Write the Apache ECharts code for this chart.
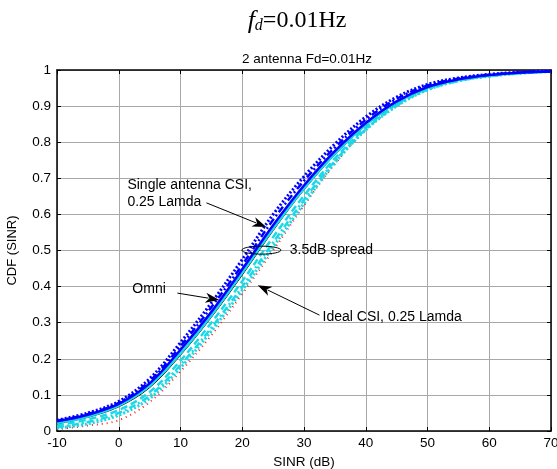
<!DOCTYPE html>
<html><head><meta charset="utf-8">
<script src="https://cdn.jsdelivr.net/npm/echarts@6/dist/echarts.min.js"></script>
<style>html,body{margin:0;padding:0;background:#fff}#c{width:557px;height:469px}</style>
</head><body><div id="c"></div>
<script>
var sinr = [-10,-5,0,5,10,15,20,25,30,35,40,45,50,55,60,65,70];
var blueDotted  = [0.030,0.050,0.082,0.145,0.245,0.355,0.475,0.600,0.705,0.795,0.870,0.925,0.960,0.978,0.988,0.994,0.997];
var blueDashDot = [0.028,0.047,0.078,0.138,0.235,0.343,0.460,0.585,0.693,0.785,0.862,0.920,0.957,0.976,0.987,0.993,0.997];
var blueSolid   = [0.027,0.045,0.075,0.132,0.225,0.330,0.448,0.570,0.680,0.775,0.853,0.913,0.953,0.974,0.986,0.993,0.996];
var cyanSolid   = [0.022,0.040,0.070,0.125,0.215,0.320,0.438,0.560,0.672,0.768,0.848,0.910,0.951,0.973,0.985,0.992,0.996];
var blackSolid  = [0.020,0.038,0.067,0.120,0.210,0.315,0.432,0.555,0.668,0.765,0.846,0.908,0.950,0.972,0.985,0.992,0.996];
var cyanDashed  = [0.015,0.032,0.058,0.108,0.195,0.300,0.415,0.537,0.652,0.755,0.840,0.905,0.948,0.971,0.984,0.992,0.996];
var cyanDashDot = [0.010,0.025,0.050,0.098,0.183,0.286,0.400,0.522,0.640,0.748,0.836,0.902,0.946,0.970,0.983,0.991,0.996];
var cyanDotted  = [0.008,0.020,0.044,0.090,0.175,0.277,0.390,0.510,0.630,0.743,0.834,0.900,0.945,0.970,0.983,0.991,0.996];
var redDotted   = [0.005,0.015,0.030,0.080,0.165,0.265,0.380,0.500,0.625,0.740,0.835,0.900,0.945,0.970,0.982,0.991,0.996];
var xTicks = [-10,0,10,20,30,40,50,60,70];
var yTicks = [0,0.1,0.2,0.3,0.4,0.5,0.6,0.7,0.8,0.9,1];

var BLUE = '#0000ff', CYAN = '#1ad8e6';
var seriesDefs = [
  {name:'s9', data: redDotted,   color:'#ff2020', width:2,   type:[1,4]},
  {name:'s8', data: cyanDotted,  color:CYAN,      width:3,   type:[2,2]},
  {name:'s7', data: cyanDashDot, color:CYAN,      width:2.5, type:[7,3,2,3]},
  {name:'s6', data: cyanDashed,  color:CYAN,      width:2.5, type:[7,4]},
  {name:'s5', data: blackSolid,  color:'#000000', width:1,   type:'solid'},
  {name:'s4', data: cyanSolid,   color:CYAN,      width:2.5, type:'solid'},
  {name:'s3', data: blueSolid,   color:BLUE,      width:2.5, type:'solid'},
  {name:'s2', data: blueDashDot, color:BLUE,      width:2.5, type:[7,3,2,3]},
  {name:'s1', data: blueDotted,  color:BLUE,      width:3,   type:[2,2]}
];
var series = seriesDefs.map(function(s){
  return {type:'line', name:s.name, showSymbol:false, smooth:0.35, animation:false,
    data: sinr.map(function(x,i){return [x, s.data[i]];}),
    lineStyle:{color:s.color, width:s.width, type:s.type}, xAxisIndex:0, yAxisIndex:0, z:3};
});

var font = 'Arial, "Liberation Sans", sans-serif';
var chart = echarts.init(document.getElementById('c'));
chart.setOption({
  animation:false,
  backgroundColor:'#fff',
  title:[
    {text:'{f|f}{d|d}{n|=0.01Hz}', left:292, top:3, textAlign:'center',
     textStyle:{fontWeight:'normal', rich:{
       f:{fontFamily:'"Liberation Serif", serif', fontStyle:'italic', fontWeight:'normal', fontSize:26, color:'#000'},
       d:{fontFamily:'"Liberation Serif", serif', fontStyle:'italic', fontWeight:'normal', fontSize:16, color:'#000', verticalAlign:'bottom', padding:[8,0,0,0]},
       n:{fontFamily:'"Liberation Serif", serif', fontWeight:'normal', fontSize:24, color:'#000'}}}},
    {text:'2 antenna Fd=0.01Hz', left:302, top:47, textAlign:'center',
     textStyle:{fontFamily:font, fontSize:13.5, fontWeight:'normal', color:'#000'}}
  ],
  grid:{left:57, right:6, top:70, bottom:38, show:false, containLabel:false, outerBoundsMode:'none'},
  xAxis:[
    {type:'value', min:-10, max:70, interval:10, position:'bottom',
     name:'SINR (dB)', nameLocation:'middle', nameGap:23,
     nameTextStyle:{fontFamily:font, fontSize:13.5, color:'#000'},
     axisLine:{show:true, onZero:false, lineStyle:{color:'#000', width:1.5}},
     axisTick:{show:true, inside:true, length:4, lineStyle:{color:'#000'}},
     axisLabel:{fontFamily:font, fontSize:13.5, color:'#000', margin:5, hideOverlap:false},
     splitLine:{show:true, lineStyle:{color:'#a8a8a8', width:1}}},
    {type:'value', min:-10, max:70, interval:10, position:'top',
     axisLine:{show:true, onZero:false, lineStyle:{color:'#000', width:1.5}},
     axisTick:{show:true, inside:true, length:4, lineStyle:{color:'#000'}},
     axisLabel:{show:false}, splitLine:{show:false}}
  ],
  yAxis:[
    {type:'value', min:0, max:1, interval:0.1, position:'left',
     name:'CDF (SINR)', nameLocation:'middle', nameGap:38, nameRotate:90,
     nameTextStyle:{fontFamily:font, fontSize:13, color:'#000'},
     axisLine:{show:true, onZero:false, lineStyle:{color:'#000', width:1.5}},
     axisTick:{show:true, inside:true, length:4, lineStyle:{color:'#000'}},
     axisLabel:{fontFamily:font, fontSize:13.5, color:'#000', margin:6,
       formatter:function(v){return String(Math.round(v*10)/10);}},
     splitLine:{show:true, lineStyle:{color:'#a8a8a8', width:1}}},
    {type:'value', min:0, max:1, interval:0.1, position:'right',
     axisLine:{show:true, onZero:false, lineStyle:{color:'#000', width:1.5}},
     axisTick:{show:true, inside:true, length:4, lineStyle:{color:'#000'}},
     axisLabel:{show:false}, splitLine:{show:false}}
  ],
  series: series
});

// annotations placed in data coordinates
var notes = {
  singleText:[1.4, 0.68], singleText2:[1.4, 0.634],
  singleArrow:[[14.2,0.632],[23.9,0.565]],
  ellipse:[23.1,0.501],
  spreadText:[27.7,0.5],
  omniText:[2.2,0.393],
  omniArrow:[[9.5,0.382],[16.3,0.363]],
  idealText:[33.0,0.316],
  idealArrow:[[32.5,0.321],[22.5,0.404]]
};
function px(p){return chart.convertToPixel({gridIndex:0}, p);}
function arrow(a){
  var p0 = px(a[0]), p1 = px(a[1]);
  var dx = p1[0]-p0[0], dy = p1[1]-p0[1], L = Math.sqrt(dx*dx+dy*dy);
  var ux = dx/L, uy = dy/L, hl = 14, hw = 5;
  var bx = p1[0]-ux*hl, by = p1[1]-uy*hl;
  return [
    {type:'line', shape:{x1:p0[0], y1:p0[1], x2:bx+ux*3, y2:by+uy*3}, style:{stroke:'#000', lineWidth:1}, z:10},
    {type:'polygon', shape:{points:[[p1[0],p1[1]],[bx-uy*hw, by+ux*hw],[bx+ux*4, by+uy*4],[bx+uy*hw, by-ux*hw]]},
     style:{fill:'#000'}, z:10}
  ];
}
function txt(p, s){
  var q = px(p);
  return {type:'text', x:q[0], y:q[1], style:{text:s, fill:'#000', font:'14px Arial, "Liberation Sans", sans-serif', textVerticalAlign:'middle', textAlign:'left'}, z:10};
}
var e = px(notes.ellipse);
var g = [].concat(
  [txt(notes.singleText,'Single antenna CSI,'), txt(notes.singleText2,'0.25 Lamda'),
   txt(notes.spreadText,'3.5dB spread'), txt(notes.omniText,'Omni'),
   txt(notes.idealText,'Ideal CSI, 0.25 Lamda'),
   {type:'ellipse', shape:{cx:e[0], cy:e[1], rx:19.5, ry:4}, style:{stroke:'#000', fill:'none', lineWidth:1}, z:10}],
  arrow(notes.singleArrow), arrow(notes.omniArrow), arrow(notes.idealArrow)
);
chart.setOption({graphic:g});
</script></body></html>
